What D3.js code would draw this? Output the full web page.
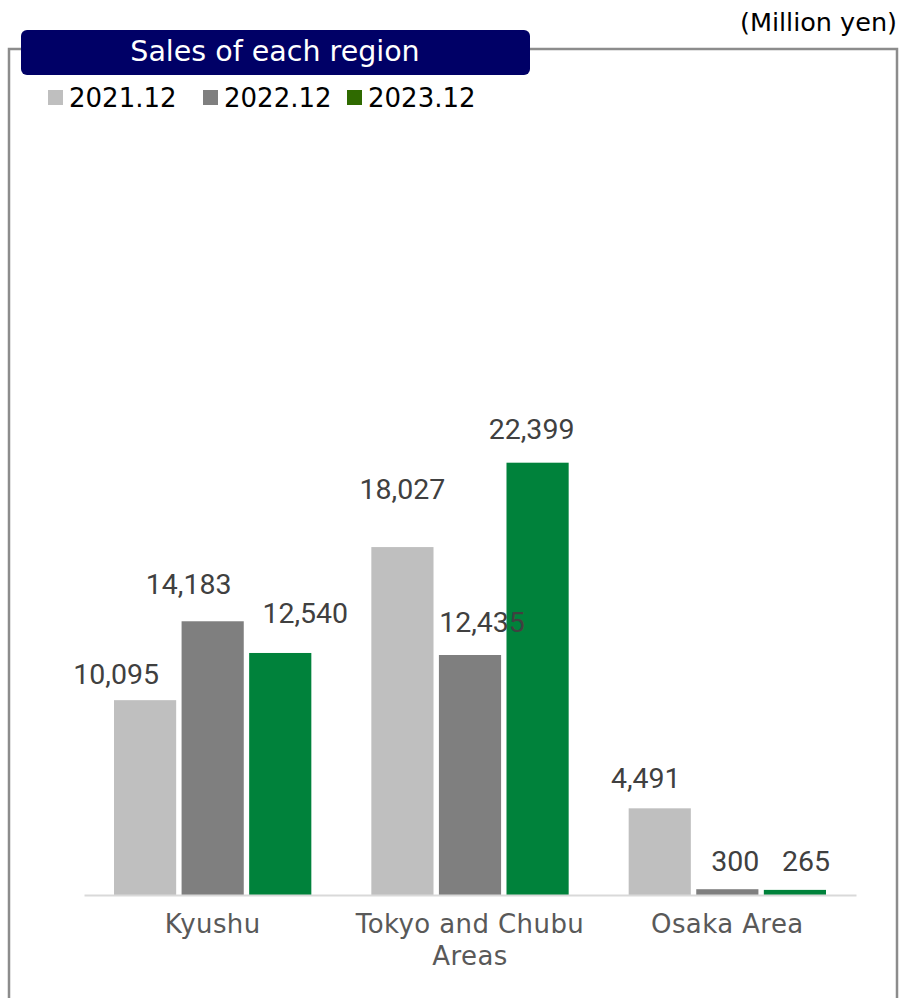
<!DOCTYPE html>
<html>
<head>
<meta charset="utf-8">
<script src="https://cdn.jsdelivr.net/npm/d3@7"></script>
<style>
  body { margin: 0; background: #fff; }
  svg { display: block; }
</style>
</head>
<body>
<div id="chart"></div>
<script>
// data
const regions = ["Kyushu", "Tokyo and Chubu Areas", "Osaka Area"];
const regionLines = [["Kyushu"], ["Tokyo and Chubu", "Areas"], ["Osaka Area"]];
const years = ["2021.12", "2022.12", "2023.12"];
const sales2021 = [10095, 18027, 4491];
const sales2022 = [14183, 12435, 300];
const sales2023 = [12540, 22399, 265];

// colours
const barColor = {"2021.12": "#bfbfbf", "2022.12": "#7f7f7f", "2023.12": "#00823b"};
const legendColor = {"2021.12": "#bfbfbf", "2022.12": "#7f7f7f", "2023.12": "#2f6a00"};

// label nudges (dx, dy from the bar top-centre), as placed in the original
const labelNudge = [
  [[-29, -26], [0, -58], [-14, -31]],
  [[-24, -38], [12, -33], [8, -28]],
  [[25, -40], [-6, -34], [11, -29]]
];

const W = 901, H = 998;
const svg = d3.select("#chart").append("svg")
  .attr("width", W).attr("height", H);

// frame
svg.append("path")
  .attr("d", `M9,${H} V49 H897 V${H}`)
  .attr("fill", "none")
  .attr("stroke", "#8c8c8c")
  .attr("stroke-width", 2.5);

// unit
svg.append("text")
  .attr("x", 897).attr("y", 31)
  .attr("text-anchor", "end")
  .attr("font-family", "DejaVu Sans")
  .attr("font-size", 25.5)
  .attr("fill", "#000")
  .text("(Million yen)");

// title box
svg.append("rect")
  .attr("x", 21).attr("y", 30)
  .attr("width", 509).attr("height", 45)
  .attr("rx", 6)
  .attr("fill", "#000066");
svg.append("text")
  .attr("x", 275).attr("y", 61)
  .attr("text-anchor", "middle")
  .attr("font-family", "DejaVu Sans")
  .attr("font-size", 28.5)
  .attr("fill", "#fff")
  .text("Sales of each region");

// legend
const legendX = [48, 203, 347];
const legend = svg.append("g").selectAll("g")
  .data(years)
  .join("g")
  .attr("transform", (d, i) => `translate(${legendX[i]}, 90)`);
legend.append("rect")
  .attr("width", 15).attr("height", 15)
  .attr("fill", d => legendColor[d]);
legend.append("text")
  .attr("x", 21).attr("y", 16.5)
  .attr("font-family", "DejaVu Sans")
  .attr("font-size", 26)
  .attr("fill", "#000")
  .text(d => d);

// scales
const x0 = d3.scaleBand()
  .domain(regions)
  .range([84, 856]);
const x1 = d3.scaleBand()
  .domain(years)
  .range([30, x0.bandwidth() - 30])
  .paddingInner(0.08);
const y = d3.scaleLinear()
  .domain([0, 25000])
  .range([895, 412.5]);

const series = [sales2021, sales2022, sales2023];
const cells = [];
regions.forEach((r, ri) => {
  years.forEach((yr, yi) => {
    cells.push({region: r, year: yr, value: series[yi][ri], nudge: labelNudge[yi][ri]});
  });
});

// bars
svg.append("g").selectAll("rect")
  .data(cells)
  .join("rect")
  .attr("x", d => x0(d.region) + x1(d.year))
  .attr("y", d => y(d.value))
  .attr("width", x1.bandwidth())
  .attr("height", d => y(0) - y(d.value))
  .attr("fill", d => barColor[d.year]);

// baseline
svg.append("g")
  .attr("transform", `translate(0, ${y(0)})`)
  .call(d3.axisBottom(x0).tickSize(0).tickFormat(""))
  .call(g => g.select(".domain").attr("stroke", "#d9d9d9").attr("stroke-width", 2));

// category labels
const cat = svg.append("g").selectAll("text")
  .data(regions)
  .join("text")
  .attr("x", d => x0(d) + x0.bandwidth() / 2)
  .attr("y", 933)
  .attr("text-anchor", "middle")
  .attr("font-family", "DejaVu Sans")
  .attr("font-size", 26)
  .attr("letter-spacing", 0.4)
  .attr("fill", "#595959");
cat.selectAll("tspan")
  .data((d, i) => regionLines[i])
  .join("tspan")
  .attr("x", function () { return d3.select(this.parentNode).attr("x"); })
  .attr("dy", (d, i) => i === 0 ? 0 : 32)
  .text(d => d);

// value labels
const fmt = d3.format(",");
svg.append("g").selectAll("text")
  .data(cells)
  .join("text")
  .attr("x", d => x0(d.region) + x1(d.year) + x1.bandwidth() / 2 + d.nudge[0])
  .attr("y", d => y(d.value) + d.nudge[1])
  .attr("dy", "0.36em")
  .attr("text-anchor", "middle")
  .attr("font-family", "Roboto")
  .attr("font-size", 28.5)
  .attr("fill", "#404040")
  .text(d => fmt(d.value));
</script>
</body>
</html>
